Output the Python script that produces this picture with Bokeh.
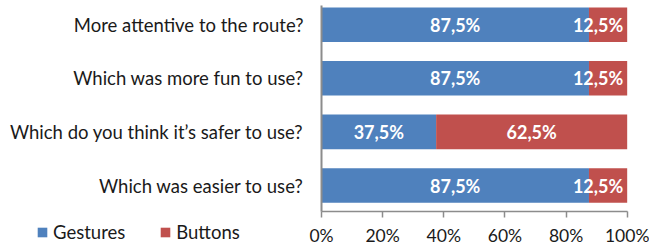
from bokeh.plotting import figure
from bokeh.models import ColumnDataSource, Range1d, FixedTicker, Legend, LegendItem
from bokeh.core.properties import value
from bokeh.embed import file_html
from bokeh.resources import INLINE

# ---- data ----
categories = ["Which was easier to use?", "Which do you think it\u2019s safer to use?",
              "Which was more fun to use?", "More attentive to the route?"]
gestures = [87.5, 37.5, 87.5, 87.5]
buttons = [12.5, 62.5, 12.5, 12.5]
x_ticks = [0, 20, 40, 60, 80, 100]
x_tick_labels = ["0%", "20%", "40%", "60%", "80%", "100%"]

BLUE = "#4F81BD"
RED = "#C0504D"
AXIS = "#8C8C8C"
TEXT = "#1A1A1A"
FONT = "Lato"

ypos = list(range(len(categories)))
src = ColumnDataSource(dict(
    y=ypos,
    g=gestures,
    b_left=gestures,
    b_right=[g + b for g, b in zip(gestures, buttons)],
    g_x=[g / 2 for g in gestures],
    g_lab=[f"{g:.1f}%".replace(".", ",") for g in gestures],
    b_x=[(g + b / 2) if b >= 20 else (g + b) for g, b in zip(gestures, buttons)],
    b_align=["center" if b >= 20 else "right" for b in buttons],
    b_off=[0 if b >= 20 else -4 for b in buttons],
    b_lab=[f"{b:.1f}%".replace(".", ",") for b in buttons],
))

# frame covers whole canvas; axes are pinned with fixed_location
p = figure(width=649, height=249, output_backend="svg", toolbar_location=None,
           x_range=Range1d(-105.0, 107.3), y_range=Range1d(-1.194, 3.4515),
           min_border=0, min_border_left=0, min_border_right=0,
           min_border_top=0, min_border_bottom=0)
p.outline_line_color = None
p.xgrid.visible = False
p.ygrid.visible = False
p.background_fill_color = "white"
p.border_fill_color = "white"

bh = 0.645
r_g = p.hbar(y="y", left=0, right="g", height=bh, source=src, fill_color=BLUE, line_color=None)
r_b = p.hbar(y="y", left="b_left", right="b_right", height=bh, source=src, fill_color=RED, line_color=None)

p.text(x="g_x", y="y", text="g_lab", source=src, text_color="white", text_font=value(FONT),
       text_font_style="bold", text_font_size="18px", text_align="center", text_baseline="middle")
p.text(x="b_x", y="y", text="b_lab", source=src, text_color="white", text_font=value(FONT),
       text_font_style="bold", text_font_size="18px", text_align="b_align", text_baseline="middle",
       x_offset="b_off")

y_axis_at = -0.485
# x axis
p.xaxis.fixed_location = y_axis_at
p.xaxis.bounds = (0, 100)
p.xaxis.ticker = FixedTicker(ticks=x_ticks)
p.xaxis.major_label_overrides = {t: l for t, l in zip(x_ticks, x_tick_labels)}
p.xaxis.axis_line_color = AXIS
p.xaxis.axis_line_width = 1.5
p.xaxis.major_tick_line_color = AXIS
p.xaxis.major_tick_line_width = 1.5
p.xaxis.major_tick_in = 0
p.xaxis.major_tick_out = 6
p.xaxis.minor_tick_line_color = None
p.xaxis.major_label_standoff = 8
p.xaxis.major_label_text_font = FONT
p.xaxis.major_label_text_font_size = "17.5px"
p.xaxis.major_label_text_color = TEXT

# y axis
p.yaxis.fixed_location = 0
p.yaxis.bounds = (y_axis_at, 3.358)
p.yaxis.ticker = FixedTicker(ticks=ypos)
p.yaxis.major_label_overrides = {i: c for i, c in zip(ypos, categories)}
p.yaxis.axis_line_color = AXIS
p.yaxis.axis_line_width = 2
p.yaxis.major_tick_line_color = None
p.yaxis.minor_tick_line_color = None
p.yaxis.major_tick_in = 0
p.yaxis.major_tick_out = 0
p.yaxis.major_label_standoff = 18
p.yaxis.major_label_text_font = FONT
p.yaxis.major_label_text_font_size = "18.5px"
p.yaxis.major_label_text_color = TEXT

legend = Legend(items=[LegendItem(label="Gestures", renderers=[r_g]),
                       LegendItem(label="Buttons", renderers=[r_b])],
                location=(36, 6), orientation="horizontal",
                padding=0, margin=0, spacing=34, label_standoff=5,
                glyph_width=12, glyph_height=12, label_height=16,
                label_text_font=FONT, label_text_font_size="18.5px", label_text_color=TEXT,
                border_line_color=None, background_fill_alpha=0)
p.add_layout(legend)

open("out.html", "w").write(file_html(p, INLINE))
